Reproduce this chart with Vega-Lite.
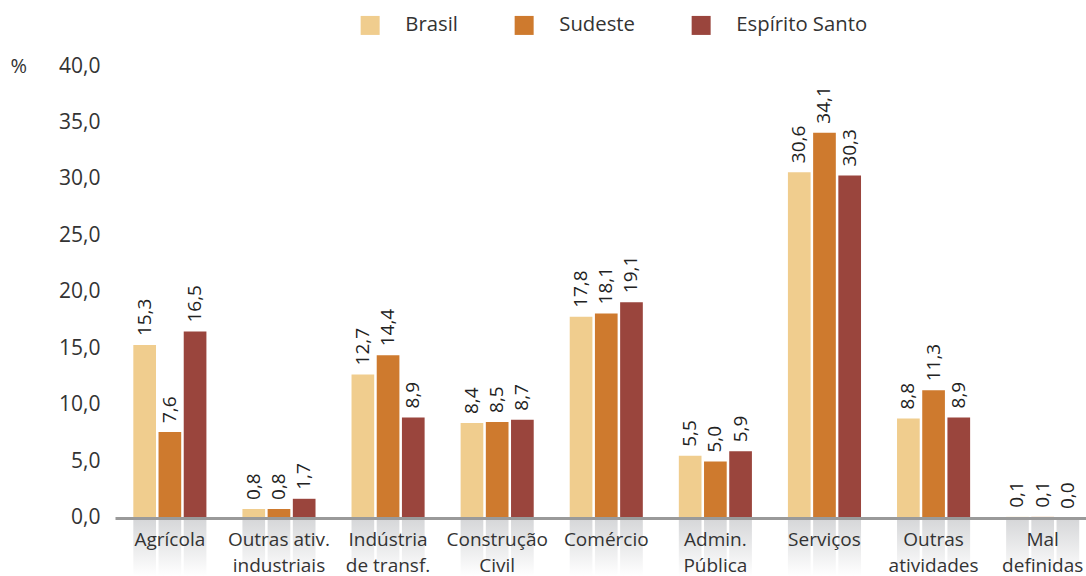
{
  "$schema": "https://vega.github.io/schema/vega-lite/v6.json",
  "width": 971,
  "height": 510,
  "autosize": {"type": "none"},
  "padding": {"left": 115, "top": 66, "right": 0, "bottom": 0},
  "background": "white",
  "config": {
    "view": {"stroke": null},
    "font": "Open Sans",
    "locale": {"number": {"decimal": ",", "thousands": ".", "grouping": [3], "currency": ["R$", ""]}}
  },
  "data": {
    "values": [
      {"setor": "Agrícola", "regiao": "Brasil", "valor": 15.3},
      {"setor": "Agrícola", "regiao": "Sudeste", "valor": 7.6},
      {"setor": "Agrícola", "regiao": "Espírito Santo", "valor": 16.5},
      {"setor": "Outras ativ.\nindustriais", "regiao": "Brasil", "valor": 0.8},
      {"setor": "Outras ativ.\nindustriais", "regiao": "Sudeste", "valor": 0.8},
      {"setor": "Outras ativ.\nindustriais", "regiao": "Espírito Santo", "valor": 1.7},
      {"setor": "Indústria\nde transf.", "regiao": "Brasil", "valor": 12.7},
      {"setor": "Indústria\nde transf.", "regiao": "Sudeste", "valor": 14.4},
      {"setor": "Indústria\nde transf.", "regiao": "Espírito Santo", "valor": 8.9},
      {"setor": "Construção\nCivil", "regiao": "Brasil", "valor": 8.4},
      {"setor": "Construção\nCivil", "regiao": "Sudeste", "valor": 8.5},
      {"setor": "Construção\nCivil", "regiao": "Espírito Santo", "valor": 8.7},
      {"setor": "Comércio", "regiao": "Brasil", "valor": 17.8},
      {"setor": "Comércio", "regiao": "Sudeste", "valor": 18.1},
      {"setor": "Comércio", "regiao": "Espírito Santo", "valor": 19.1},
      {"setor": "Admin.\nPública", "regiao": "Brasil", "valor": 5.5},
      {"setor": "Admin.\nPública", "regiao": "Sudeste", "valor": 5.0},
      {"setor": "Admin.\nPública", "regiao": "Espírito Santo", "valor": 5.9},
      {"setor": "Serviços", "regiao": "Brasil", "valor": 30.6},
      {"setor": "Serviços", "regiao": "Sudeste", "valor": 34.1},
      {"setor": "Serviços", "regiao": "Espírito Santo", "valor": 30.3},
      {"setor": "Outras\natividades", "regiao": "Brasil", "valor": 8.8},
      {"setor": "Outras\natividades", "regiao": "Sudeste", "valor": 11.3},
      {"setor": "Outras\natividades", "regiao": "Espírito Santo", "valor": 8.9},
      {"setor": "Mal\ndefinidas", "regiao": "Brasil", "valor": 0.1},
      {"setor": "Mal\ndefinidas", "regiao": "Sudeste", "valor": 0.1},
      {"setor": "Mal\ndefinidas", "regiao": "Espírito Santo", "valor": 0.0}
    ]
  },
  "encoding": {
    "x": {
      "field": "setor", "type": "nominal", "sort": null,
      "scale": {"paddingInner": 0.33, "paddingOuter": 0.115, "align": 0.73},
      "axis": {
        "orient": "bottom", "offset": -58, "title": null, "labelAngle": 0, "ticks": false,
        "domainColor": "#9a9a9a", "domainWidth": 3, "labelFont": "Open Sans", "labelFontSize": 19,
        "labelColor": "#333333", "labelPadding": 12, "labelBaseline": "top", "labelLineHeight": 26,
        "labelExpr": "split(datum.label, '\\n')", "zindex": 1, "grid": false
      }
    },
    "xOffset": {"field": "regiao", "type": "nominal", "sort": ["Brasil", "Sudeste", "Espírito Santo"], "scale": {"paddingInner": 0.1}}
  },
  "layer": [
    {
      "mark": {
        "type": "bar",
        "fill": {"gradient": "linear", "x1": 0, "y1": 0, "x2": 0, "y2": 1,
          "stops": [{"offset": 0, "color": "#d5d6d8"}, {"offset": 1, "color": "#ffffff"}]}
      },
      "encoding": {
        "y": {"datum": 0, "type": "quantitative"},
        "y2": {"datum": -5.133}
      }
    },
    {
      "mark": {"type": "bar"},
      "encoding": {
        "y": {
          "field": "valor", "type": "quantitative",
          "scale": {"domain": [-5.133, 40], "nice": false, "zero": false},
          "axis": {
            "values": [0, 5, 10, 15, 20, 25, 30, 35, 40], "format": ".1f", "domain": false, "ticks": false,
            "labelPadding": 15, "labelFont": "Open Sans", "labelFontSize": 21, "labelColor": "#333333",
            "gridColor": "#cccccc", "gridWidth": 1,
            "title": "%", "titleAngle": 0, "titleAlign": "left", "titleBaseline": "middle",
            "titleX": -105, "titleY": 0, "titleFont": "Open Sans", "titleFontSize": 20, "titleFontWeight": "normal", "titleColor": "#333333"
          }
        },
        "color": {
          "field": "regiao", "type": "nominal", "sort": ["Brasil", "Sudeste", "Espírito Santo"],
          "scale": {"domain": ["Brasil", "Sudeste", "Espírito Santo"], "range": ["#f0cd8e", "#ce7a2e", "#9a453d"]},
          "legend": {
            "orient": "none", "legendX": 245, "legendY": -51, "direction": "horizontal", "title": null,
            "symbolType": "square", "symbolSize": 361, "symbolStrokeWidth": 0, "labelFont": "Open Sans",
            "labelFontSize": 20.3, "labelColor": "#333333", "labelOffset": 25, "columnPadding": 56, "padding": 0
          }
        }
      }
    },
    {
      "mark": {"type": "text", "angle": 270, "align": "left", "baseline": "middle", "dx": 9,
        "font": "Open Sans", "fontSize": 19, "color": "#222222"},
      "encoding": {
        "y": {"field": "valor", "type": "quantitative"},
        "text": {"field": "valor", "type": "quantitative", "format": ".1f"}
      }
    }
  ]
}
